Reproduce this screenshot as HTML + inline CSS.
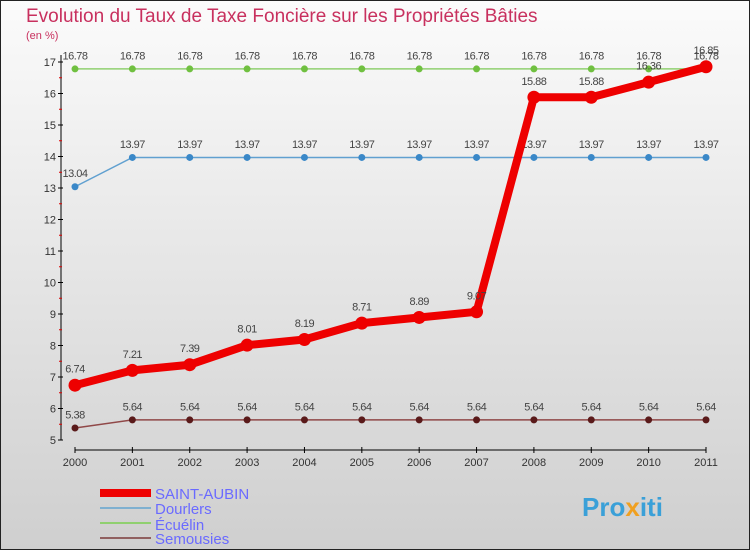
<!DOCTYPE html>
<html><head><meta charset="utf-8"><style>
body{margin:0}
svg{display:block;font-family:"Liberation Sans",sans-serif}
</style></head><body>
<svg id="c" width="750" height="550">
<defs><linearGradient id="bg" x1="0" y1="0" x2="0" y2="1"><stop offset="0" stop-color="#fbfbfb"/><stop offset="1" stop-color="#cfcfcf"/></linearGradient></defs>
<rect x="0.5" y="0.5" width="749" height="549" fill="url(#bg)" stroke="#222"/>
<text x="26" y="22" font-size="19" fill="#c8305e">Evolution du Taux de Taxe Foncière sur les Propriétés Bâties</text>
<text x="26" y="39" font-size="11" fill="#c8305e">(en %)</text>
<g id="axes"></g><g id="series"></g>
<g>
<rect x="100" y="489" width="51" height="8" fill="#e00"/>
<text x="155" y="499" font-size="15" fill="#6a6aff">SAINT-AUBIN</text>
<line x1="100" y1="508" x2="151" y2="508" stroke="#7fb0d0" stroke-width="2"/>
<text x="155" y="514" font-size="15" fill="#6a6aff">Dourlers</text>
<line x1="100" y1="523" x2="151" y2="523" stroke="#90d070" stroke-width="2"/>
<text x="155" y="530" font-size="15" fill="#6a6aff">Écuélin</text>
<line x1="100" y1="538" x2="151" y2="538" stroke="#906060" stroke-width="2"/>
<text x="155" y="544" font-size="15" fill="#6a6aff">Semousies</text>
</g>
<text x="582" y="516" font-size="26" font-weight="bold" fill="#3aa0d8">Pro<tspan fill="#f0a020">x</tspan>iti</text>
</svg>
<script>
const years=[2000,2001,2002,2003,2004,2005,2006,2007,2008,2009,2010,2011];
const yTicks=[5,6,7,8,9,10,11,12,13,14,15,16,17];
const saintAubin=[6.74,7.21,7.39,8.01,8.19,8.71,8.89,9.07,15.88,15.88,16.36,16.85];
const dourlers=[13.04,13.97,13.97,13.97,13.97,13.97,13.97,13.97,13.97,13.97,13.97,13.97];
const ecuelin=[16.78,16.78,16.78,16.78,16.78,16.78,16.78,16.78,16.78,16.78,16.78,16.78];
const semousies=[5.38,5.64,5.64,5.64,5.64,5.64,5.64,5.64,5.64,5.64,5.64,5.64];
const NS="http://www.w3.org/2000/svg";
const X=i=>75+i*(631/11), Y=v=>440-(v-5)*31.5;
function mk(t,a,p){const e=document.createElementNS(NS,t);for(const k in a)e.setAttribute(k,a[k]);p.appendChild(e);return e;}
const ax=document.getElementById('axes');
mk('line',{x1:61,y1:55,x2:61,y2:440,stroke:'#000'},ax);
mk('line',{x1:75,y1:450,x2:706,y2:450,stroke:'#000'},ax);
yTicks.forEach(v=>{mk('line',{x1:58,y1:Y(v),x2:63,y2:Y(v),stroke:'#000'},ax);
 if(v<17)mk('line',{x1:59,y1:Y(v+0.5),x2:62,y2:Y(v+0.5),stroke:'#d00'},ax);
 const t=mk('text',{x:56,y:Y(v)+4,'text-anchor':'end','font-size':11,fill:'#333'},ax);t.textContent=v;
 
 });
years.forEach((y,i)=>{mk('line',{x1:X(i),y1:447,x2:X(i),y2:453,stroke:'#000'},ax);
 const t=mk('text',{x:X(i),y:466,'text-anchor':'middle','font-size':11,fill:'#333'},ax);t.textContent=y;
 
 });
const sg=document.getElementById('series');
function draw(name,data,color,w,r,dot){
 const g=mk('g',{},sg);
 
 
 mk('polyline',{points:data.map((v,i)=>X(i)+','+Y(v)).join(' '),fill:'none',stroke:color,'stroke-width':w,'stroke-linejoin':'round'},g);
 data.forEach((v,i)=>{const c=mk('circle',{cx:X(i),cy:Y(v),r:r,fill:dot},g);
  
  
  const t=mk('text',{x:X(i),y:Y(v)-(r+6),'text-anchor':'middle','font-size':11,fill:'#444','letter-spacing':'-0.5'},g);t.textContent=v.toFixed(2);
  
  });
}
draw('semousies',semousies,'#904848',1.5,3.5,'#5a1a1a');
draw('dourlers',dourlers,'#60a0d0',1.5,3.5,'#3a88c8');
draw('ecuelin',ecuelin,'#90d070',1.5,3.5,'#70c040');
draw('saint-aubin',saintAubin,'#ee0000',8,6.5,'#ee0000');
</script>
</body></html>
